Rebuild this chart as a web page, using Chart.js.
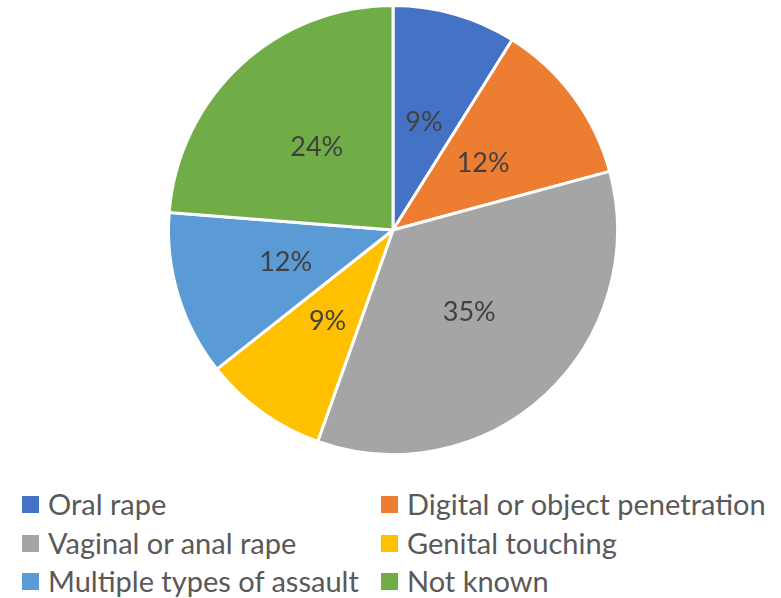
<!DOCTYPE html>
<html>
<head>
<meta charset="utf-8">
<script src="https://cdn.jsdelivr.net/npm/chart.js@4"></script>
<style>
  body { margin: 0; background: #fff; font-family: Lato, sans-serif; }
  #wrap { position: relative; width: 781px; height: 598px; }
  #pie { position: absolute; left: 0; top: 0; }
  #legend {
    position: absolute; left: 22px; top: 485px;
    display: grid; grid-template-columns: 359px auto;
    color: #595959; font-size: 29px; line-height: 38.7px;
  }
  .item { display: flex; align-items: center; white-space: nowrap; }
  .box { width: 17px; height: 17px; margin-right: 9px; flex: none; }
</style>
</head>
<body>
<div id="wrap">
  <canvas id="pie" width="781" height="461"></canvas>
  <div id="legend"></div>
</div>
<script>
// assault type shares, percent
const labels = [
  'Oral rape',
  'Digital or object penetration',
  'Vaginal or anal rape',
  'Genital touching',
  'Multiple types of assault',
  'Not known'
];
const shares = [9, 12, 35, 9, 12, 24];
const colors = ['#4472C4', '#ED7D31', '#A5A5A5', '#FFC000', '#5B9BD5', '#70AD47'];

// percent labels in the middle of each slice
const sliceLabels = {
  id: 'sliceLabels',
  afterDatasetsDraw(chart) {
    const ctx = chart.ctx;
    const meta = chart.getDatasetMeta(0);
    ctx.save();
    ctx.font = '27px Lato';
    ctx.fillStyle = '#404040';
    ctx.textAlign = 'center';
    ctx.textBaseline = 'middle';
    meta.data.forEach((arc, i) => {
      const p = arc.tooltipPosition();
      ctx.fillText(shares[i] + '%', p.x, p.y);
    });
    ctx.restore();
  }
};

new Chart(document.getElementById('pie'), {
  type: 'pie',
  data: {
    labels: labels,
    datasets: [{
      data: shares,
      backgroundColor: colors,
      borderColor: '#ffffff',
      borderWidth: 3,
      hoverOffset: 0
    }]
  },
  options: {
    responsive: false,
    animation: false,
    layout: { padding: { left: 167, right: 162, top: 4, bottom: 5 } },
    plugins: {
      legend: { display: false },
      tooltip: { enabled: false }
    }
  },
  plugins: [sliceLabels]
});

// two-column legend
const legend = document.getElementById('legend');
labels.forEach((name, i) => {
  const item = document.createElement('div');
  item.className = 'item';
  item.innerHTML = '<span class="box" style="background:' + colors[i] + '"></span><span>' + name + '</span>';
  legend.appendChild(item);
});
</script>
</body>
</html>
